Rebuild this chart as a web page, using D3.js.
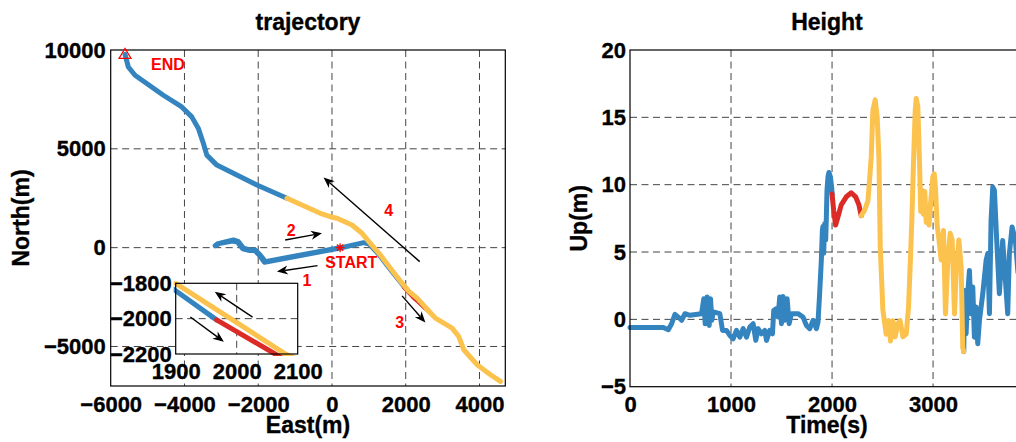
<!DOCTYPE html>
<html>
<head>
<meta charset="utf-8">
<script src="https://cdn.jsdelivr.net/npm/d3@7"></script>
<style>
  html, body { margin: 0; padding: 0; background: #fff; }
  text { font-family: "Liberation Sans", Arial, Helvetica, sans-serif; font-weight: bold; }
  .heavy { stroke: #000; stroke-width: 0.35px; }
</style>
</head>
<body>
<script>
// ---------------- DATA ----------------
// trajectory (East, North) in metres
const trajBlueOut = [[220,0],[-1811,-707],[-1947,-369],[-2082,-116],[-2218,-116],[-2400,-30],[-2535,303],[-2671,389],[-3032,222],[-3168,101],[-3100,200],[-2700,330],[-2560,280],[-2420,-60],[-2230,-150],[-2090,-150],[-1960,-400],[-1830,-740],[220,-20],[860,253],[1010,180],[1285,-369],[1557,-1040],[1900,-1842],[1967,-2007]];
const trajRed = [[1967,-2007],[2063,-2200],[2200,-2480],[2330,-2700],[2560,-3100]];
const trajYellow = [[2560,-3100],[2805,-3565],[3258,-4070],[3437,-4495],[3573,-5166],[3937,-5924],[4298,-6429],[4570,-6767],[4298,-6429],[3937,-5924],[3573,-5166],[3437,-4495],[3258,-4070],[2805,-3565],[2308,-2555],[2080,-2200],[1990,-2000],[1900,-1800],[1583,-1040],[1311,-369],[1040,222],[815,727],[543,1146],[136,1485],[-46,1566],[-317,1737],[-1222,2495]];
const trajBlueBack = [[-1222,2495],[-2036,3166],[-2579,3671],[-3122,4176],[-3394,4681],[-3486,5272],[-3622,6030],[-3801,6616],[-4072,7120],[-4572,7711],[-5023,8302],[-5340,8721],[-5522,9140],[-5612,9780]];
const startPoint = [220, 0];
const endPoint = [-5612, 9780];

// arrows [x1,y1,x2,y2] in data coords (head at second point)
const trajArrows = [[-391,-909,-1493,-1212],[-1268,389,-271,727],[1901,-2439,2533,-3788],[2379,-707,-228,3555]];
const insetArrows = [[2026,-1991,1964,-1848],[1924,-1991,1979,-2130]];
const trajLabels = [["1",-679,-1631],["2",-1105,894],["3",1835,-3788],["4",1537,1904]];
const startLabel = ["START", -184, -1040];
const endLabel = ["END", -4906, 8974];

// height (time s, up m)
const heightBlue1 = [[0,-0.6],[100,-0.6],[200,-0.6],[330,-0.6],[379,-0.77],[412,-0.32],[445,0.37],[478,0.17],[511,-0.07],[544,0.42],[593,0.3],[708,0.42],[731,1.53],[744,-0.33],[764,1.66],[784,-0.45],[797,1.53],[810,-0.07],[824,0.55],[889,0.42],[916,-0.82],[955,-0.82],[988,-1.19],[1021,-1.44],[1054,-0.82],[1087,-1.32],[1120,-0.69],[1153,-1.32],[1186,-0.57],[1219,-0.32],[1245,-1.56],[1268,-0.69],[1301,-1.07],[1334,-0.82],[1351,-1.56],[1383,-0.82],[1410,-1.07],[1423,0.67],[1449,0.79],[1466,0.17],[1482,1.66],[1499,-0.32],[1515,1.7],[1532,-0.07],[1555,1.53],[1575,-0.32],[1598,0.42],[1663,0.42],[1713,0.17],[1746,-0.45],[1779,-0.69],[1812,-0.07],[1845,-0.69],[1861,-0.2],[1877,1.9],[1894,4.4],[1904,6.6],[1910,6.9],[1917,4.9],[1927,7.1],[1937,5.9],[1943,7.4],[1950,9.6],[1960,10.6],[1969,10.9],[1983,10.6],[1996,9.8],[2002,9.3]];
const heightRed = [[2000,9.3],[2016,8.1],[2035,7.0],[2058,7.6],[2091,8.5],[2141,9.1],[2190,9.4],[2233,9.1],[2266,8.5],[2289,7.7]];
const heightYellow = [[2289,7.7],[2322,8.1],[2355,8.8],[2371,10.3],[2388,12.1],[2404,15.5],[2427,16.3],[2447,15.0],[2464,12.0],[2477,5.4],[2503,0.7],[2536,-1.1],[2559,-0.1],[2579,-1.6],[2602,-0.1],[2625,-1.3],[2651,-0.3],[2674,-0.1],[2701,-1.3],[2734,-1.1],[2757,0.9],[2773,3.9],[2790,7.4],[2806,11.6],[2823,15.5],[2833,16.4],[2849,15.8],[2866,11.6],[2878,8.0],[2890,9.6],[2905,7.8],[2918,9.5],[2932,7.2],[2948,8.0],[2960,7.0],[2975,8.6],[2998,10.6],[3012,10.8],[3025,9.6],[3040,7.0],[3057,6.0],[3080,4.4],[3103,6.6],[3123,0.4],[3146,4.4],[3169,6.4],[3189,5.9],[3212,0.4],[3228,3.4],[3255,5.9],[3278,3.9],[3294,-2.1],[3304,-2.4]];
const heightBlue2 = [[3304,-2.4],[3310,2.15],[3327,-1.07],[3343,1.91],[3360,3.63],[3376,0.42],[3393,2.4],[3409,-1.32],[3426,0.91],[3442,-1.81],[3459,-0.07],[3492,1.91],[3525,4.38],[3541,4.88],[3558,0.42],[3574,7.35],[3591,9.83],[3607,9.58],[3630,5.86],[3656,1.91],[3673,3.88],[3689,5.86],[3716,2.89],[3739,0.42],[3755,4.88],[3782,6.86],[3815,5.86],[3840,3.5],[3870,6.0],[3900,4.0]];

// axes
const eastDomain = [-6000, 4700], northDomain = [-7000, 10000];
const eastTicks = [-6000,-4000,-2000,0,2000,4000];
const northTicks = [-5000,0,5000,10000];
const insetEastDomain = [1900, 2100], insetNorthDomain = [-2200, -1800];
const insetEastTicks = [1900, 2000, 2100];
const insetNorthTicks = [-2200, -2000, -1800];
const timeDomain = [0, 3900], upDomain = [-5, 20];
const timeTicks = [0, 1000, 2000, 3000];
const upTicks = [-5, 0, 5, 10, 15, 20];

// ---------------- STYLE ----------------
const C_BLUE = "#3484c0", C_RED = "#dc2b27", C_YEL = "#fcc24e";
const GRID = "#444", DASH = "7,4.5";
const TICK_FS = 22, LAB_FS = 23;

const svg = d3.select("body").append("svg").attr("width", 1016).attr("height", 442);

// ---------------- LEFT PANEL ----------------
const L = {x0: 110.7, x1: 505.3, y0: 50, y1: 386};
const xL = d3.scaleLinear().domain(eastDomain).range([L.x0, L.x1]);
const yL = d3.scaleLinear().domain(northDomain).range([L.y1, L.y0]);

function grid(g, xs, ys, xsc, ysc, box) {
  g.selectAll(null).data(xs).join("line")
    .attr("x1", d => xsc(d)).attr("x2", d => xsc(d)).attr("y1", box.y0).attr("y2", box.y1)
    .attr("stroke", GRID).attr("stroke-width", 1).attr("stroke-dasharray", DASH);
  g.selectAll(null).data(ys).join("line")
    .attr("y1", d => ysc(d)).attr("y2", d => ysc(d)).attr("x1", box.x0).attr("x2", box.x1)
    .attr("stroke", GRID).attr("stroke-width", 1).attr("stroke-dasharray", DASH);
}
function styleAxis(g) {
  g.select(".domain").remove();
  g.selectAll(".tick line").remove();
  g.selectAll("text").attr("font-size", TICK_FS).attr("font-family", '"Liberation Sans", Arial, sans-serif')
    .attr("font-weight", "bold").attr("fill", "#000").attr("class", "heavy");
}

const gL = svg.append("g");
grid(gL, eastTicks.filter(d => d > eastDomain[0] && d < eastDomain[1]),
     northTicks.filter(d => d > northDomain[0] && d < northDomain[1]), xL, yL, L);

gL.append("g").attr("transform", `translate(0,${L.y1})`)
  .call(d3.axisBottom(xL).tickValues(eastTicks).tickSize(0).tickPadding(10.5).tickFormat(d3.format("d")))
  .call(styleAxis);
gL.append("g").attr("transform", `translate(${L.x0},0)`)
  .call(d3.axisLeft(yL).tickValues(northTicks).tickSize(0).tickPadding(5).tickFormat(d3.format("d")))
  .call(styleAxis);

const lineL = d3.line().x(d => xL(d[0])).y(d => yL(d[1]));
function drawPath(g, data, gen, color, w) {
  g.append("path").attr("d", gen(data)).attr("fill", "none").attr("stroke", color)
    .attr("stroke-width", w).attr("stroke-linejoin", "round").attr("stroke-linecap", "round");
}
drawPath(gL, trajBlueOut, lineL, C_BLUE, 5);
drawPath(gL, trajBlueBack, lineL, C_BLUE, 5);
drawPath(gL, trajRed, lineL, C_RED, 5);
drawPath(gL, trajYellow, lineL, C_YEL, 5);

gL.append("rect").attr("x", L.x0).attr("y", L.y0).attr("width", L.x1 - L.x0).attr("height", L.y1 - L.y0)
  .attr("fill", "none").attr("stroke", "#000").attr("stroke-width", 1.2);

// markers
{
  const ex = xL(endPoint[0]), ey = yL(endPoint[1]);
  gL.append("path").attr("d", `M${ex},${ey-6}L${ex+6},${ey+4}L${ex-6},${ey+4}Z`)
    .attr("fill", "none").attr("stroke", "#f00").attr("stroke-width", 1.2);
  const sx = xL(startPoint[0]), sy = yL(startPoint[1]), r = 4.5;
  const star = [[0,-r,0,r],[-r,0,r,0],[-r*0.7,-r*0.7,r*0.7,r*0.7],[-r*0.7,r*0.7,r*0.7,-r*0.7]];
  gL.selectAll(null).data(star).join("line")
    .attr("x1", d => sx + d[0]).attr("y1", d => sy + d[1]).attr("x2", d => sx + d[2]).attr("y2", d => sy + d[3])
    .attr("stroke", "#f00").attr("stroke-width", 1.2);
}

function arrow(g, x1, y1, x2, y2) {
  const dx = x2 - x1, dy = y2 - y1, len = Math.hypot(dx, dy);
  const ux = dx / len, uy = dy / len, nx = -uy, ny = ux;
  const HL = 11, HW = 4.5;
  g.append("line").attr("x1", x1).attr("y1", y1).attr("x2", x2 - ux * HL * 0.7).attr("y2", y2 - uy * HL * 0.7)
    .attr("stroke", "#000").attr("stroke-width", 1.4);
  const bx = x2 - ux * HL, by = y2 - uy * HL;
  const mx = x2 - ux * HL * 0.7, my = y2 - uy * HL * 0.7;
  g.append("path").attr("d", `M${x2},${y2}L${bx + nx*HW},${by + ny*HW}L${mx},${my}L${bx - nx*HW},${by - ny*HW}Z`)
    .attr("fill", "#000");
}
trajArrows.forEach(a => arrow(gL, xL(a[0]), yL(a[1]), xL(a[2]), yL(a[3])));

gL.selectAll(null).data(trajLabels).join("text")
  .attr("x", d => xL(d[1])).attr("y", d => yL(d[2])).attr("dy", "0.36em")
  .attr("text-anchor", "middle").attr("font-size", 16).attr("fill", "#f00").text(d => d[0]);
[startLabel, endLabel].forEach(d => {
  gL.append("text").attr("x", xL(d[1])).attr("y", yL(d[2])).attr("font-size", 16)
    .attr("fill", "#f00").text(d[0]);
});

gL.append("text").attr("x", (L.x0 + L.x1) / 2).attr("y", 30).attr("text-anchor", "middle")
  .attr("font-size", LAB_FS).attr("class", "heavy").text("trajectory");
gL.append("text").attr("x", (L.x0 + L.x1) / 2).attr("y", 433).attr("text-anchor", "middle")
  .attr("font-size", LAB_FS).attr("class", "heavy").text("East(m)");
gL.append("text").attr("transform", `translate(29,${(L.y0 + L.y1) / 2}) rotate(-90)`).attr("text-anchor", "middle")
  .attr("font-size", LAB_FS).attr("class", "heavy").text("North(m)");

// ---------------- INSET ----------------
const I = {x0: 175.7, x1: 297.7, y0: 283.3, y1: 354};
const xI = d3.scaleLinear().domain(insetEastDomain).range([I.x0, I.x1]);
const yI = d3.scaleLinear().domain(insetNorthDomain).range([I.y1, I.y0]);
const gI = svg.append("g");
gI.append("rect").attr("x", I.x0).attr("y", I.y0).attr("width", I.x1 - I.x0).attr("height", I.y1 - I.y0).attr("fill", "#fff");
grid(gI, insetEastTicks.slice(1, -1), insetNorthTicks.slice(1, -1), xI, yI, I);
svg.append("defs").append("clipPath").attr("id", "insetClip").append("rect")
  .attr("x", I.x0 - 2).attr("y", I.y0 - 2).attr("width", I.x1 - I.x0 + 4).attr("height", I.y1 - I.y0 + 4);
const gIc = gI.append("g").attr("clip-path", "url(#insetClip)");
const lineI = d3.line().x(d => xI(d[0])).y(d => yI(d[1]));
drawPath(gIc, trajBlueOut, lineI, C_BLUE, 5);
drawPath(gIc, trajRed, lineI, C_RED, 5);
drawPath(gIc, trajYellow, lineI, C_YEL, 5);
insetArrows.forEach(a => arrow(gI, xI(a[0]), yI(a[1]), xI(a[2]), yI(a[3])));
gI.append("rect").attr("x", I.x0).attr("y", I.y0).attr("width", I.x1 - I.x0).attr("height", I.y1 - I.y0)
  .attr("fill", "none").attr("stroke", "#000").attr("stroke-width", 1.2);
gI.append("g").attr("transform", `translate(0,${I.y1})`)
  .call(d3.axisBottom(xI).tickValues(insetEastTicks).tickSize(0).tickPadding(9.5).tickFormat(d3.format("d")))
  .call(styleAxis);
gI.append("g").attr("transform", `translate(${I.x0},0)`)
  .call(d3.axisLeft(yI).tickValues(insetNorthTicks).tickSize(0).tickPadding(4).tickFormat(d3.format("d")))
  .call(styleAxis);

// ---------------- RIGHT PANEL ----------------
const R = {x0: 630, x1: 1024, y0: 50, y1: 386.7};
const xR = d3.scaleLinear().domain(timeDomain).range([R.x0, R.x1]);
const yR = d3.scaleLinear().domain(upDomain).range([R.y1, R.y0]);
const gR = svg.append("g");
grid(gR, timeTicks.filter(d => d > timeDomain[0]), upTicks.filter(d => d > upDomain[0] && d < upDomain[1]), xR, yR, R);
gR.append("g").attr("transform", `translate(0,${R.y1})`)
  .call(d3.axisBottom(xR).tickValues(timeTicks).tickSize(0).tickPadding(10).tickFormat(d3.format("d")))
  .call(styleAxis);
gR.append("g").attr("transform", `translate(${R.x0},0)`)
  .call(d3.axisLeft(yR).tickValues(upTicks).tickSize(0).tickPadding(4).tickFormat(d3.format("d")))
  .call(styleAxis);
const lineR = d3.line().x(d => xR(d[0])).y(d => yR(d[1]));
drawPath(gR, heightBlue1, lineR, C_BLUE, 5);
drawPath(gR, heightBlue2, lineR, C_BLUE, 5);
drawPath(gR, heightRed, lineR, C_RED, 5);
drawPath(gR, heightYellow, lineR, C_YEL, 5);
gR.append("rect").attr("x", R.x0).attr("y", R.y0).attr("width", R.x1 - R.x0).attr("height", R.y1 - R.y0)
  .attr("fill", "none").attr("stroke", "#000").attr("stroke-width", 1.2);
gR.append("text").attr("x", (R.x0 + R.x1) / 2).attr("y", 30).attr("text-anchor", "middle")
  .attr("font-size", LAB_FS).attr("class", "heavy").text("Height");
gR.append("text").attr("x", (R.x0 + R.x1) / 2).attr("y", 433).attr("text-anchor", "middle")
  .attr("font-size", LAB_FS).attr("class", "heavy").text("Time(s)");
gR.append("text").attr("transform", `translate(587,${(R.y0 + R.y1) / 2}) rotate(-90)`).attr("text-anchor", "middle")
  .attr("font-size", LAB_FS).attr("class", "heavy").text("Up(m)");
</script>
</body>
</html>
